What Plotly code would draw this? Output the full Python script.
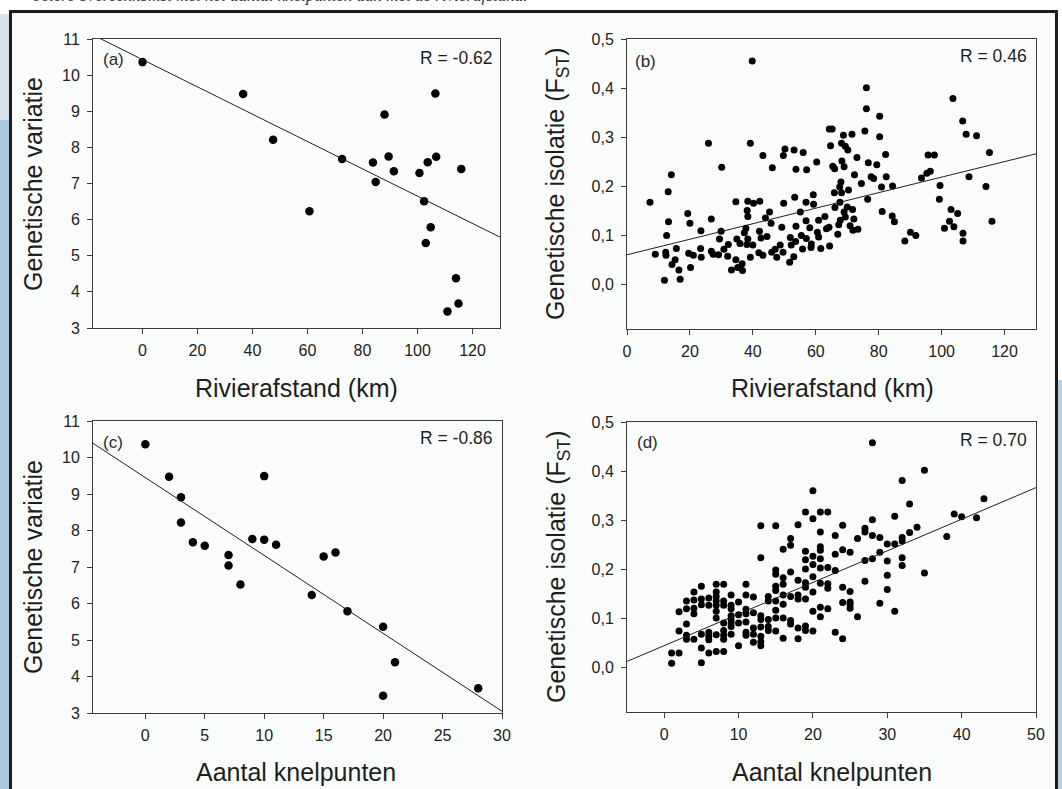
import plotly.graph_objects as go

W, H = 1062, 789

# ---------------- data ----------------
# (a) Rivierafstand vs genetische variatie
a_rivierafstand = [0, 36.6, 47.5, 60.7, 72.6, 83.8, 84.8, 88.0, 89.5, 91.4, 100.7,
                   102.4, 103.0, 103.7, 104.8, 106.5, 106.8, 110.9, 114.0, 114.9, 115.9]
a_variatie = [10.36, 9.48, 8.21, 6.23, 7.68, 7.58, 7.04, 8.91, 7.75, 7.34, 7.29,
              6.51, 5.35, 7.59, 5.79, 9.49, 7.74, 3.46, 4.38, 3.68, 7.40]
a_fit = (10.43, -0.0378)   # intercept, slope

# (b) Rivierafstand vs FST
b_rivierafstand = [39.8, 25.9, 39.2, 50.2, 53.1, 56.0, 43.2, 49.7, 30.1, 46.2, 53.7, 57.1, 14.1, 13.1,
                   7.3, 34.6, 38.4, 40.2, 42.2, 49.8, 53.3, 56.9, 59.3, 59.2, 38.2, 45.3, 38.4, 19.3,
                   55.1, 13.2, 20.0, 26.8, 44.0, 45.8, 56.9, 12.6, 23.5, 29.9, 37.8, 42.1, 49.2, 53.7,
                   58.1, 37.3, 29.4, 34.9, 38.4, 42.6, 44.5, 51.9, 55.4, 57.0, 32.2, 35.9, 38.1, 40.0,
                   48.7, 53.6, 58.6, 9.0, 12.3, 15.7, 19.6, 21.1, 23.4, 23.6, 26.8, 27.4, 29.1, 30.8,
                   32.0, 34.6, 36.6, 39.2, 41.9, 43.2, 46.0, 47.1, 47.6, 49.6, 52.2, 53.0, 51.7, 55.8,
                   58.5, 12.4, 15.3, 14.3, 16.5, 20.2, 11.9, 16.9, 33.2, 35.2, 36.7,
                   76.1, 103.6, 76.1, 80.3, 106.7, 64.3, 65.2, 75.6, 107.8, 111.1, 68.8, 71.5, 80.3,
                   68.2, 64.7, 69.4, 70.2, 115.2, 82.2, 95.7, 97.7, 73.1, 60.3, 68.3, 76.7, 79.4, 65.4,
                   66.0, 69.0, 96.4, 95.3, 93.6, 72.3, 77.6, 78.4, 82.4, 108.7, 68.0, 74.5, 67.6, 80.9,
                   84.4, 99.5, 114.1, 65.9, 68.2, 70.4, 76.5, 99.3, 67.7, 66.1, 70.0, 71.7, 81.1, 103.0,
                   105.1, 69.0, 69.4, 72.1, 84.3, 85.0, 102.5, 116.0, 62.9, 60.9, 67.8, 64.2, 67.3, 63.4,
                   70.9, 71.8, 73.4, 100.9, 103.9, 60.5, 60.9, 67.0, 88.3, 90.1, 91.8, 106.8, 106.8,
                   64.4, 61.6]
b_fst = [0.455, 0.288, 0.288, 0.276, 0.274, 0.269, 0.263, 0.263, 0.239, 0.238, 0.235, 0.234, 0.224, 0.189,
         0.168, 0.169, 0.170, 0.166, 0.170, 0.166, 0.178, 0.168, 0.164, 0.183, 0.151, 0.148, 0.139, 0.145,
         0.148, 0.128, 0.125, 0.134, 0.136, 0.125, 0.130, 0.100, 0.110, 0.109, 0.115, 0.109, 0.117, 0.119,
         0.116, 0.106, 0.093, 0.093, 0.093, 0.095, 0.098, 0.096, 0.100, 0.094, 0.082, 0.084, 0.082, 0.081,
         0.081, 0.088, 0.083, 0.062, 0.066, 0.074, 0.064, 0.060, 0.074, 0.056, 0.068, 0.062, 0.061, 0.072,
         0.058, 0.051, 0.043, 0.056, 0.065, 0.060, 0.066, 0.072, 0.056, 0.066, 0.081, 0.057, 0.046, 0.073,
         0.076, 0.060, 0.051, 0.041, 0.030, 0.035, 0.009, 0.011, 0.030, 0.035, 0.029,
         0.401, 0.379, 0.358, 0.343, 0.333, 0.317, 0.317, 0.313, 0.306, 0.303, 0.304, 0.306, 0.301,
         0.288, 0.283, 0.282, 0.274, 0.269, 0.265, 0.264, 0.264, 0.259, 0.250, 0.252, 0.248, 0.244, 0.241,
         0.236, 0.240, 0.231, 0.227, 0.217, 0.224, 0.220, 0.216, 0.220, 0.220, 0.209, 0.206, 0.199, 0.199,
         0.201, 0.202, 0.200, 0.187, 0.187, 0.193, 0.174, 0.174, 0.168, 0.157, 0.158, 0.153, 0.149, 0.153,
         0.145, 0.148, 0.138, 0.134, 0.140, 0.128, 0.129, 0.129, 0.139, 0.131, 0.131, 0.117, 0.122, 0.114,
         0.120, 0.111, 0.113, 0.115, 0.118, 0.107, 0.097, 0.103, 0.089, 0.107, 0.100, 0.105, 0.089,
         0.079, 0.074]
b_fit = (0.061, 0.00158)

# (c) Aantal knelpunten vs genetische variatie
c_knelpunten = [0, 2, 3, 3, 4, 5, 7, 7, 8, 9, 10, 10, 11, 14, 15, 16, 17, 20, 21, 20, 28]
c_variatie = [10.36, 9.47, 8.91, 8.22, 7.68, 7.58, 7.33, 7.04, 6.52, 7.77, 9.49, 7.75, 7.61,
              6.23, 7.29, 7.40, 5.79, 5.36, 4.39, 3.47, 3.68]
c_fit = (9.45, -0.2134)

# (d) Aantal knelpunten vs FST (values grouped per number of knelpunten)
d_knelpunten_levels = list(range(1, 36)) + [38, 39, 40, 42, 43]
d_fst_per_level = [
    [0.030, 0.009],
    [0.030, 0.075, 0.114],
    [0.136, 0.120, 0.089, 0.066, 0.058],
    [0.154, 0.138, 0.121, 0.110, 0.058],
    [0.166, 0.140, 0.128, 0.068, 0.040, 0.010],
    [0.142, 0.127, 0.072, 0.064, 0.057, 0.030],
    [0.170, 0.154, 0.145, 0.136, 0.127, 0.115, 0.101, 0.067, 0.033],
    [0.170, 0.136, 0.127, 0.091, 0.076, 0.066, 0.058, 0.033],
    [0.148, 0.127, 0.120, 0.106, 0.098, 0.091, 0.084, 0.068],
    [0.134, 0.108, 0.091, 0.045],
    [0.170, 0.148, 0.119, 0.110, 0.093, 0.072, 0.066],
    [0.144, 0.112, 0.081, 0.068, 0.052],
    [0.289, 0.224, 0.106, 0.098, 0.083, 0.064, 0.053, 0.045],
    [0.145, 0.136, 0.098, 0.084, 0.076],
    [0.289, 0.199, 0.190, 0.166, 0.157, 0.136, 0.117, 0.101, 0.075],
    [0.241, 0.183, 0.170, 0.148, 0.129, 0.101, 0.060],
    [0.263, 0.249, 0.195, 0.145, 0.096, 0.089],
    [0.291, 0.178, 0.148, 0.140, 0.081, 0.059],
    [0.317, 0.237, 0.220, 0.201, 0.173, 0.164, 0.140, 0.085, 0.076],
    [0.360, 0.303, 0.227, 0.210, 0.185, 0.154, 0.115, 0.075],
    [0.317, 0.276, 0.246, 0.239, 0.222, 0.203, 0.172, 0.123, 0.104],
    [0.317, 0.204, 0.171, 0.162, 0.120],
    [0.269, 0.231, 0.198, 0.072],
    [0.290, 0.240, 0.164, 0.133, 0.059],
    [0.235, 0.155, 0.134, 0.129, 0.121],
    [0.263, 0.104],
    [0.284, 0.276, 0.218, 0.176],
    [0.458, 0.301, 0.269, 0.222],
    [0.265, 0.235, 0.131],
    [0.252, 0.217, 0.188, 0.159],
    [0.308, 0.252, 0.115],
    [0.381, 0.265, 0.258, 0.224, 0.208],
    [0.333, 0.275],
    [0.286],
    [0.402, 0.193],
    [0.267],
    [0.313],
    [0.307],
    [0.305],
    [0.344],
]
d_fit = (0.045, 0.00643)

d_knelpunten = [k for k, ys in zip(d_knelpunten_levels, d_fst_per_level) for _ in ys]
d_fst = [v for ys in d_fst_per_level for v in ys]

panel_labels = ["(a)", "(b)", "(c)", "(d)"]
r_labels = ["R = -0.62", "R = 0.46", "R = -0.86", "R = 0.70"]
x_titles = ["Rivierafstand (km)", "Rivierafstand (km)", "Aantal knelpunten", "Aantal knelpunten"]
y_titles = ["Genetische variatie", "Genetische isolatie (F<sub>ST</sub>)",
            "Genetische variatie", "Genetische isolatie (F<sub>ST</sub>)"]
variatie_ticks = list(range(3, 12))
fst_ticks = [0.0, 0.1, 0.2, 0.3, 0.4, 0.5]
fst_ticktext = ["0,0", "0,1", "0,2", "0,3", "0,4", "0,5"]
afstand_ticks = [0, 20, 40, 60, 80, 100, 120]
c_ticks = [0, 5, 10, 15, 20, 25, 30]
d_ticks = [0, 10, 20, 30, 40, 50]
header = "betere overeenkomst met het aantal knelpunten dan met de rivierafstand."

# ---------------- layout helpers (pixel -> paper) ----------------
def fx(p):
    return p / W


def fy(p):
    return 1 - p / H


FONT = "Liberation Sans, Arial, sans-serif"
INK = "#1e1e1e"
AXC = "#3c3c3c"

panels = [
    dict(xs=a_rivierafstand, ys=a_variatie, fit=a_fit, msize=8.5,
         px=(93, 500), py=(39, 328), xr=[-18, 130], yr=[3, 11],
         xt=afstand_ticks, yt=variatie_ticks, ytt=[str(v) for v in variatie_ticks],
         lab=(101, 60), r=(494, 58), xtit=(296, 388), ytit=(33, 184)),
    dict(xs=b_rivierafstand, ys=b_fst, fit=b_fit, msize=7,
         px=(627, 1036), py=(39, 329), xr=[0, 130], yr=[-0.09, 0.5],
         xt=afstand_ticks, yt=fst_ticks, ytt=fst_ticktext,
         lab=(633, 61), r=(1029, 56), xtit=(832, 388), ytit=(557, 184)),
    dict(xs=c_knelpunten, ys=c_variatie, fit=c_fit, msize=8.5,
         px=(93, 502), py=(421, 713), xr=[-4.4, 30], yr=[3, 11],
         xt=c_ticks, yt=variatie_ticks, ytt=[str(v) for v in variatie_ticks],
         lab=(101, 442), r=(494, 438), xtit=(296, 772), ytit=(33, 567)),
    dict(xs=d_knelpunten, ys=d_fst, fit=d_fit, msize=7,
         px=(627, 1036), py=(422, 712), xr=[-5, 50], yr=[-0.09, 0.5],
         xt=d_ticks, yt=fst_ticks, ytt=fst_ticktext,
         lab=(635, 442), r=(1029, 440), xtit=(832, 772), ytit=(558, 567)),
]

fig = go.Figure()
layout = dict(
    width=W, height=H,
    margin=dict(l=0, r=0, t=0, b=0),
    paper_bgcolor="#ffffff",
    plot_bgcolor="rgba(0,0,0,0)",
    showlegend=False,
    font=dict(family=FONT, color=INK),
)
annotations = []

for i, p in enumerate(panels):
    n = "" if i == 0 else str(i + 1)
    xa, ya = "x" + n, "y" + n
    fig.add_trace(go.Scatter(
        x=p["xs"], y=p["ys"], mode="markers", xaxis=xa, yaxis=ya,
        marker=dict(color="#000000", size=p["msize"], line=dict(width=0)),
        cliponaxis=True, hoverinfo="skip"))
    b0, b1 = p["fit"]
    lx = p["xr"]
    ly = [b0 + b1 * v for v in lx]
    fig.add_trace(go.Scatter(
        x=lx, y=ly, mode="lines", xaxis=xa, yaxis=ya,
        line=dict(color="#202020", width=1), hoverinfo="skip"))

    common = dict(showline=True, linecolor=AXC, linewidth=1, mirror=True,
                  ticks="outside", ticklen=5, tickwidth=1, tickcolor=AXC,
                  showgrid=False, zeroline=False, automargin=False, fixedrange=True,
                  tickfont=dict(family=FONT, size=16, color="#222222"))
    layout["xaxis" + n] = dict(common, domain=[fx(p["px"][0]), fx(p["px"][1])],
                               range=p["xr"], anchor=ya, tickvals=p["xt"],
                               ticktext=[str(v) for v in p["xt"]], ticklabelstandoff=3)
    layout["yaxis" + n] = dict(common, domain=[fy(p["py"][1]), fy(p["py"][0])],
                               range=p["yr"], anchor=xa, tickvals=p["yt"],
                               ticktext=p["ytt"], ticklabelstandoff=4)

    annotations.append(dict(text=panel_labels[i], x=fx(p["lab"][0]), y=fy(p["lab"][1]),
                            xref="paper", yref="paper", xanchor="left", yanchor="middle",
                            showarrow=False, font=dict(family=FONT, size=17, color="#2a2a2a")))
    annotations.append(dict(text=r_labels[i], x=fx(p["r"][0]), y=fy(p["r"][1]),
                            xref="paper", yref="paper", xanchor="right", yanchor="middle",
                            showarrow=False, font=dict(family=FONT, size=17.5, color="#1e1e1e")))
    annotations.append(dict(text=x_titles[i], x=fx(p["xtit"][0]), y=fy(p["xtit"][1]),
                            xref="paper", yref="paper", xanchor="center", yanchor="middle",
                            showarrow=False, font=dict(family=FONT, size=25, color="#1e1e1e")))
    annotations.append(dict(text=y_titles[i], x=fx(p["ytit"][0]), y=fy(p["ytit"][1]),
                            xref="paper", yref="paper", xanchor="center", yanchor="middle",
                            textangle=-90, showarrow=False,
                            font=dict(family=FONT, size=25, color="#1e1e1e")))

annotations.append(dict(text="<i>" + header + "</i>", x=fx(31), y=fy(7),
                        xref="paper", yref="paper", xanchor="left", yanchor="bottom",
                        showarrow=False,
                        font=dict(family="Liberation Serif, Times New Roman, serif", size=17,
                                  color="#333333")))

shapes = [
    # watery background strips outside the framed box
    dict(type="rect", xref="paper", yref="paper", x0=fx(0), x1=fx(9.5), y0=fy(789), y1=fy(120),
         fillcolor="#a9c7dc", line=dict(width=0), layer="below"),
    dict(type="rect", xref="paper", yref="paper", x0=fx(0), x1=fx(9.5), y0=fy(120), y1=fy(14),
         fillcolor="#d3e3ee", line=dict(width=0), layer="below"),
    dict(type="rect", xref="paper", yref="paper", x0=fx(1058), x1=fx(1062), y0=fy(789), y1=fy(380),
         fillcolor="#b9d1e2", line=dict(width=0), layer="below"),
    # framed box
    dict(type="rect", xref="paper", yref="paper", x0=fx(10.5), x1=fx(1056.5), y0=fy(800), y1=fy(11.5),
         fillcolor="#fafcfc", line=dict(color="#1c1c1c", width=3), layer="below"),
]

layout["annotations"] = annotations
layout["shapes"] = shapes
fig.update_layout(**layout)

fig.write_html("out.html",
               config={"displayModeBar": False},
               post_script="document.body.style.margin='0';document.body.style.padding='0';"
                           "document.body.style.overflow='hidden';")
